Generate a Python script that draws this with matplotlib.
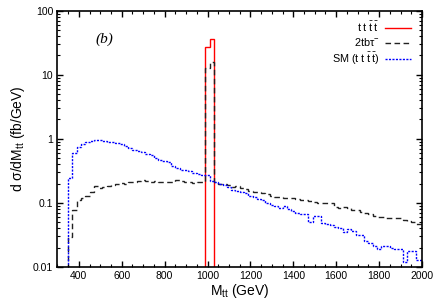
import numpy as np
import matplotlib
matplotlib.use("Agg")
import matplotlib.pyplot as plt
from matplotlib.ticker import LogLocator, MultipleLocator, FixedLocator, FixedFormatter

plt.rcParams['font.family'] = ['Liberation Sans', 'DejaVu Sans']
plt.rcParams['mathtext.fontset'] = 'custom'
plt.rcParams['mathtext.rm'] = 'Liberation Sans'
plt.rcParams['mathtext.it'] = 'Liberation Sans:italic'

# bin centres (GeV), 20 GeV bins
mass = list(range(300, 2001, 20))

sm_tttt = [0, 0, 0, 0.24, 0.59, 0.75, 0.82, 0.88, 0.92, 0.95,
           0.95, 0.93, 0.90, 0.88, 0.85, 0.83, 0.78, 0.72, 0.68, 0.65,
           0.62, 0.58, 0.55, 0.50, 0.47, 0.45, 0.43, 0.38, 0.35, 0.33,
           0.32, 0.31, 0.29, 0.28, 0.27, 0.27, 0.22, 0.21, 0.20, 0.19,
           0.175, 0.16, 0.155, 0.145, 0.14, 0.13, 0.124, 0.115, 0.11, 0.10,
           0.092, 0.09, 0.082, 0.09, 0.08, 0.074, 0.07, 0.068, 0.068, 0.05,
           0.063, 0.062, 0.048, 0.046, 0.045, 0.042, 0.04, 0.035, 0.039, 0.036,
           0.031, 0.031, 0.025, 0.024, 0.021, 0.019, 0.021, 0.021, 0.020, 0.019,
           0.019, 0.012, 0.018, 0.018, 0.013, 0.013]

tbtau = [0, 0, 0, 0.029, 0.077, 0.11, 0.12, 0.13, 0.147, 0.18,
         0.17, 0.175, 0.18, 0.19, 0.20, 0.205, 0.20, 0.21, 0.215, 0.217,
         0.225, 0.22, 0.215, 0.22, 0.215, 0.21, 0.21, 0.215, 0.225, 0.22,
         0.21, 0.21, 0.205, 0.21, 0.21, 12.7, 16.0, 0.21, 0.20, 0.20,
         0.19, 0.175, 0.18, 0.17, 0.165, 0.155, 0.148, 0.15, 0.14, 0.135,
         0.13, 0.125, 0.125, 0.12, 0.12, 0.117, 0.115, 0.11, 0.11, 0.105,
         0.104, 0.10, 0.10, 0.098, 0.098, 0.085, 0.083, 0.085, 0.082, 0.077,
         0.077, 0.072, 0.07, 0.067, 0.063, 0.060, 0.06, 0.058, 0.058, 0.057,
         0.057, 0.054, 0.052, 0.05, 0.047, 0.046]

signal = [0] * len(mass)
signal[mass.index(1000)] = 27.4
signal[mass.index(1020)] = 36.0

labels = ['$\\mathrm{t\\;t\\;\\bar{t}\\;\\bar{t}}$', '2tb$\\mathrm{\\tau}^{-}$',
          'SM ($\\mathrm{t\\;t\\;\\bar{t}\\;\\bar{t}}$)']

edges = np.concatenate([np.array(mass) - 10, [mass[-1] + 10]])


def draw(ax, vals, **kw):
    v = np.array(vals, dtype=float)
    nz = np.nonzero(v)[0]
    i0, i1 = nz[0], nz[-1] + 1
    return ax.stairs(v[i0:i1], edges[i0:i1 + 1], baseline=1e-6, **kw)


fig = plt.figure(figsize=(4.41, 3.05), dpi=100)
ax = fig.add_axes([0.130, 0.125, 0.827, 0.840])

h1 = draw(ax, signal, color='#ff0000', lw=1.0, label=labels[0])
h2 = draw(ax, tbtau, color='#222222', lw=1.0, linestyle=(0, (4, 2.5)), label=labels[1])
h3 = draw(ax, sm_tttt, color='#0000ff', lw=1.0, linestyle=(0, (1.5, 1)), label=labels[2])

ax.set_yscale('log')
ax.set_xlim(300, 2000)
ax.set_ylim(0.01, 100)

ax.xaxis.set_minor_locator(MultipleLocator(50))
ax.set_xticks([400, 600, 800, 1000, 1200, 1400, 1600, 1800, 2000])
ax.set_xticklabels(['400', '600', '800', '1000', '1200', '1400', '1600', '1800', '2000'])
ax.yaxis.set_major_locator(FixedLocator([0.01, 0.1, 1, 10, 100]))
ax.yaxis.set_major_formatter(FixedFormatter(['0.01', '0.1', '1', '10', '100']))
ax.yaxis.set_minor_locator(LogLocator(base=10, subs=np.arange(2, 10)))
ax.yaxis.set_minor_formatter(plt.NullFormatter())

ax.tick_params(which='both', direction='in', top=True, right=True, labelsize=7.5, pad=3)
ax.tick_params(which='major', length=4, width=1)
ax.tick_params(which='minor', length=2, width=0.8)
for s in ax.spines.values():
    s.set_linewidth(1.2)

ax.set_xlabel('M$_{\\mathrm{tt}}$ (GeV)', fontsize=10, labelpad=1)
ax.set_ylabel('d $\\mathrm{\\sigma}$/dM$_{\\mathrm{tt}}$ (fb/GeV)', fontsize=10, labelpad=4)

ax.text(0.128, 0.89, '(b)', transform=ax.transAxes, fontsize=11,
        family=['Liberation Serif', 'DejaVu Serif'], style='italic',
        ha='center', va='center')

leg = ax.legend(handles=[h1, h2, h3], loc='upper right', frameon=False,
                markerfirst=False, fontsize=7.8, handlelength=2.4,
                labelspacing=0.25, handletextpad=0.5,
                bbox_to_anchor=(0.99, 0.995), borderaxespad=0.3)

fig.savefig('out.png', dpi=100)
